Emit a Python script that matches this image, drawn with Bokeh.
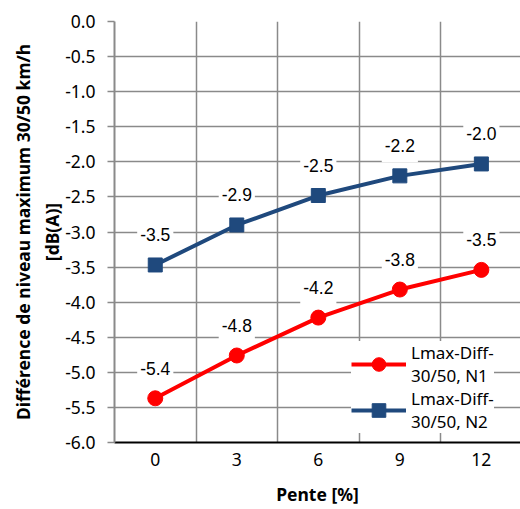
from bokeh.plotting import figure
from bokeh.models import Range1d, FixedTicker, Legend, LegendItem, ColumnDataSource
from bokeh.embed import file_html
from bokeh.resources import INLINE

# ---- data ----
slopes = ["0", "3", "6", "9", "12"]
n1_vals = [-5.37, -4.76, -4.22, -3.82, -3.54]
n2_vals = [-3.47, -2.90, -2.48, -2.20, -2.03]
n1_name = "Lmax-Diff-\n30/50, N1"
n2_name = "Lmax-Diff-\n30/50, N2"
y_ticks = [-6.0, -5.5, -5.0, -4.5, -4.0, -3.5, -3.0, -2.5, -2.0, -1.5, -1.0, -0.5, 0.0]
x_title = "Pente [%]"
y_title = "Différence de niveau maximum 30/50 km/h\n[dB(A)]"

FONT = "Noto Sans"
RED = "#FF0000"
BLUE = "#1F497D"
GRID = "#8A8A8A"
FS = "17.5px"

xs = list(range(len(slopes)))
bounds = [i - 0.5 for i in range(len(slopes) + 1)]

src1 = ColumnDataSource(dict(x=xs, y=n1_vals, lab=[f"{v:.1f}" for v in n1_vals]))
src2 = ColumnDataSource(dict(x=xs, y=n2_vals, lab=[f"{v:.1f}" for v in n2_vals]))

p = figure(width=520, height=509, x_range=Range1d(-0.5, 4.48), y_range=Range1d(-6, 0),
           output_backend="svg", toolbar_location=None,
           min_border_left=114, min_border_right=0, min_border_top=21, min_border_bottom=67)
p.outline_line_color = None
p.background_fill_color = "white"

# grid
p.xgrid.ticker = FixedTicker(ticks=bounds)
p.ygrid.ticker = FixedTicker(ticks=y_ticks)
for g in (p.xgrid, p.ygrid):
    g.grid_line_color = GRID
    g.grid_line_width = 1.5

# x axis
xa = p.xaxis[0]
xa.ticker = FixedTicker(ticks=xs)
xa.major_label_overrides = {i: s for i, s in zip(xs, slopes)}
xa.major_tick_out = 0
xa.major_tick_in = 0
xa.minor_tick_line_color = None
xa.axis_line_color = "black"
xa.axis_line_width = 2
xa.major_label_text_font = FONT
xa.major_label_text_font_size = FS
xa.major_label_text_color = "black"
xa.major_label_standoff = 10
xa.axis_label = x_title
xa.axis_label_text_font = FONT
xa.axis_label_text_font_size = FS
xa.axis_label_text_font_style = "bold"
xa.axis_label_text_color = "black"
xa.axis_label_standoff = 13

# y axis
ya = p.yaxis[0]
ya.ticker = FixedTicker(ticks=y_ticks)
ya.major_label_overrides = {t: f"{t:.1f}" for t in y_ticks}
ya.major_tick_out = 7
ya.major_tick_in = 0
ya.major_tick_line_color = GRID
ya.major_tick_line_width = 1.5
ya.minor_tick_line_color = None
ya.axis_line_color = GRID
ya.axis_line_width = 2
ya.major_label_text_font = FONT
ya.major_label_text_font_size = FS
ya.major_label_text_color = "black"
ya.major_label_standoff = 12
ya.axis_label = y_title
ya.axis_label_text_font = FONT
ya.axis_label_text_font_size = FS
ya.axis_label_text_font_style = "bold"
ya.axis_label_text_color = "black"
ya.axis_label_standoff = -2

# series
l1 = p.line("x", "y", source=src1, line_color=RED, line_width=4)
m1 = p.scatter("x", "y", source=src1, marker="circle", size=15, fill_color=RED, line_color=RED)
l2 = p.line("x", "y", source=src2, line_color=BLUE, line_width=4)
m2 = p.scatter("x", "y", source=src2, marker="square", size=14, fill_color=BLUE, line_color=BLUE)

for src in (src1, src2):
    p.text("x", "y", text="lab", source=src, y_offset=-30, text_align="center",
           text_baseline="middle", text_font_size=FS, text_color="black",
           background_fill_color="white", padding=(3, 10))

legend = Legend(items=[LegendItem(label=n1_name, renderers=[l1, m1]),
                       LegendItem(label=n2_name, renderers=[l2, m2])],
                location=(237, 9), border_line_color=None, background_fill_color="white",
                background_fill_alpha=1.0, glyph_width=55, glyph_height=34, label_standoff=5,
                label_text_font=FONT, label_text_font_size="17px", label_text_color="black",
                label_text_line_height=1.45, padding=3, spacing=0, margin=0)
p.add_layout(legend)

open("out.html", "w").write(file_html(p, INLINE))
